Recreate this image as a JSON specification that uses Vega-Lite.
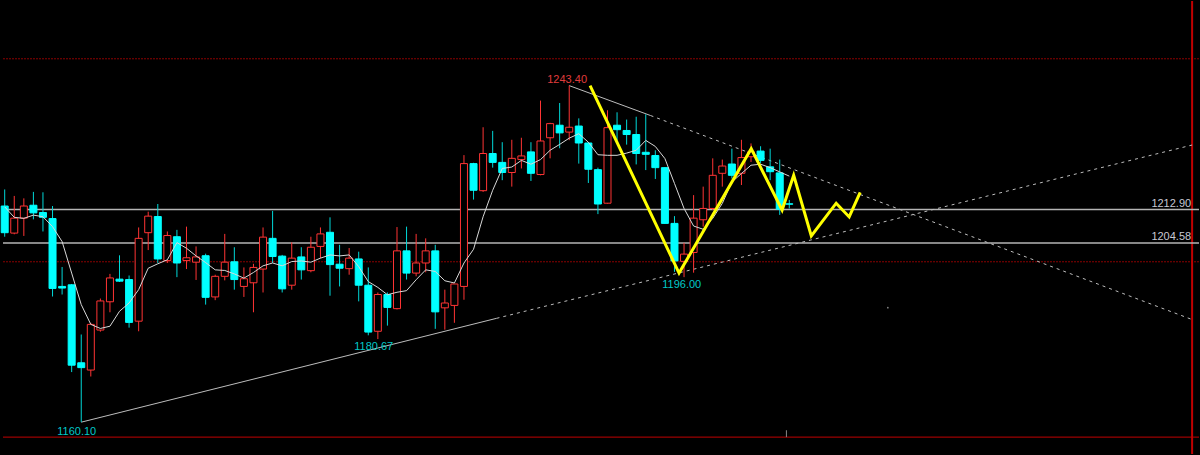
{
  "$schema": "https://vega.github.io/schema/vega-lite/v6.json",
  "width": 1200,
  "height": 455,
  "autosize": {"type": "fit", "contains": "padding"},
  "padding": 0,
  "background": "#000000",
  "config": {"view": {"stroke": null}, "scale": {"continuousPadding": 0}},
  "datasets": {
    "candles": [
      {"i":0,"o":1213.6,"h":1217.7,"l":1206.0,"c":1207.0},
      {"i":1,"o":1206.9,"h":1216.1,"l":1206.6,"c":1210.6},
      {"i":2,"o":1210.6,"h":1215.5,"l":1206.2,"c":1213.6},
      {"i":3,"o":1213.8,"h":1217.1,"l":1210.3,"c":1211.9},
      {"i":4,"o":1212.0,"h":1217.0,"l":1207.3,"c":1210.8},
      {"i":5,"o":1210.5,"h":1213.6,"l":1191.2,"c":1193.2},
      {"i":6,"o":1193.7,"h":1198.5,"l":1191.7,"c":1193.3},
      {"i":7,"o":1194.1,"h":1194.3,"l":1172.5,"c":1174.2},
      {"i":8,"o":1174.8,"h":1181.8,"l":1160.1,"c":1173.6},
      {"i":9,"o":1173.0,"h":1184.7,"l":1171.4,"c":1184.3},
      {"i":10,"o":1182.9,"h":1190.7,"l":1182.5,"c":1190.1},
      {"i":11,"o":1189.9,"h":1196.8,"l":1187.3,"c":1195.8},
      {"i":12,"o":1195.5,"h":1201.4,"l":1194.8,"c":1195.0},
      {"i":13,"o":1195.4,"h":1196.4,"l":1183.5,"c":1184.8},
      {"i":14,"o":1185.1,"h":1208.3,"l":1182.6,"c":1205.6},
      {"i":15,"o":1207.0,"h":1212.2,"l":1202.7,"c":1211.1},
      {"i":16,"o":1211.0,"h":1214.1,"l":1199.5,"c":1200.5},
      {"i":17,"o":1200.1,"h":1207.3,"l":1199.5,"c":1206.3},
      {"i":18,"o":1206.0,"h":1207.7,"l":1196.0,"c":1199.5},
      {"i":19,"o":1200.1,"h":1208.5,"l":1198.0,"c":1200.8},
      {"i":20,"o":1199.7,"h":1203.6,"l":1195.3,"c":1201.0},
      {"i":21,"o":1201.3,"h":1201.8,"l":1189.2,"c":1191.0},
      {"i":22,"o":1191.1,"h":1196.6,"l":1190.3,"c":1196.2},
      {"i":23,"o":1196.2,"h":1206.7,"l":1195.2,"c":1199.7},
      {"i":24,"o":1199.8,"h":1203.4,"l":1192.9,"c":1195.4},
      {"i":25,"o":1193.7,"h":1198.4,"l":1191.1,"c":1195.6},
      {"i":26,"o":1194.6,"h":1199.3,"l":1187.3,"c":1198.4},
      {"i":27,"o":1198.0,"h":1208.3,"l":1192.2,"c":1205.9},
      {"i":28,"o":1205.6,"h":1212.4,"l":1199.5,"c":1201.1},
      {"i":29,"o":1201.2,"h":1201.5,"l":1192.2,"c":1193.1},
      {"i":30,"o":1194.0,"h":1204.6,"l":1192.9,"c":1200.7},
      {"i":31,"o":1201.0,"h":1203.4,"l":1195.4,"c":1197.8},
      {"i":32,"o":1197.6,"h":1206.0,"l":1197.2,"c":1203.4},
      {"i":33,"o":1203.6,"h":1208.3,"l":1200.7,"c":1206.7},
      {"i":34,"o":1207.1,"h":1210.8,"l":1191.4,"c":1199.1},
      {"i":35,"o":1199.2,"h":1204.0,"l":1193.7,"c":1198.2},
      {"i":36,"o":1198.1,"h":1203.2,"l":1196.6,"c":1200.7},
      {"i":37,"o":1200.5,"h":1202.3,"l":1190.0,"c":1194.0},
      {"i":38,"o":1194.0,"h":1198.4,"l":1181.6,"c":1182.4},
      {"i":39,"o":1182.6,"h":1192.2,"l":1180.67,"c":1191.7},
      {"i":40,"o":1191.7,"h":1192.2,"l":1184.0,"c":1188.5},
      {"i":41,"o":1188.2,"h":1208.4,"l":1188.0,"c":1202.5},
      {"i":42,"o":1202.5,"h":1208.5,"l":1195.4,"c":1197.0},
      {"i":43,"o":1197.0,"h":1206.7,"l":1196.2,"c":1199.5},
      {"i":44,"o":1199.5,"h":1205.6,"l":1197.2,"c":1202.5},
      {"i":45,"o":1202.5,"h":1204.0,"l":1183.2,"c":1187.4},
      {"i":46,"o":1188.4,"h":1192.9,"l":1183.0,"c":1189.6},
      {"i":47,"o":1189.0,"h":1194.3,"l":1184.7,"c":1194.3},
      {"i":48,"o":1193.7,"h":1226.2,"l":1190.4,"c":1224.1},
      {"i":49,"o":1224.1,"h":1224.3,"l":1215.2,"c":1217.5},
      {"i":50,"o":1217.4,"h":1233.1,"l":1217.1,"c":1226.6},
      {"i":51,"o":1226.6,"h":1232.2,"l":1223.1,"c":1224.4},
      {"i":52,"o":1224.4,"h":1229.4,"l":1220.0,"c":1221.9},
      {"i":53,"o":1221.9,"h":1230.0,"l":1218.4,"c":1225.4},
      {"i":54,"o":1225.1,"h":1230.5,"l":1222.9,"c":1226.0},
      {"i":55,"o":1227.0,"h":1229.4,"l":1219.8,"c":1221.7},
      {"i":56,"o":1221.4,"h":1239.7,"l":1221.2,"c":1229.7},
      {"i":57,"o":1230.5,"h":1234.2,"l":1225.4,"c":1234.0},
      {"i":58,"o":1233.6,"h":1239.1,"l":1227.9,"c":1231.7},
      {"i":59,"o":1231.9,"h":1243.4,"l":1229.9,"c":1233.1},
      {"i":60,"o":1233.4,"h":1235.3,"l":1224.1,"c":1229.2},
      {"i":61,"o":1229.2,"h":1229.4,"l":1219.3,"c":1222.7},
      {"i":62,"o":1222.6,"h":1223.1,"l":1211.6,"c":1214.1},
      {"i":63,"o":1214.3,"h":1237.3,"l":1214.2,"c":1233.0},
      {"i":64,"o":1233.6,"h":1236.8,"l":1229.9,"c":1232.5},
      {"i":65,"o":1232.3,"h":1235.0,"l":1228.8,"c":1231.3},
      {"i":66,"o":1231.3,"h":1235.7,"l":1223.9,"c":1226.6},
      {"i":67,"o":1226.9,"h":1236.3,"l":1222.5,"c":1226.4},
      {"i":68,"o":1226.1,"h":1227.4,"l":1220.3,"c":1223.1},
      {"i":69,"o":1223.1,"h":1223.2,"l":1209.2,"c":1209.3},
      {"i":70,"o":1209.3,"h":1211.1,"l":1197.3,"c":1200.0},
      {"i":71,"o":1199.9,"h":1204.5,"l":1196.0,"c":1201.7},
      {"i":72,"o":1202.1,"h":1216.3,"l":1197.1,"c":1210.6},
      {"i":73,"o":1210.2,"h":1218.4,"l":1208.5,"c":1213.0},
      {"i":74,"o":1213.0,"h":1225.4,"l":1212.6,"c":1221.2},
      {"i":75,"o":1221.7,"h":1225.1,"l":1218.4,"c":1223.5},
      {"i":76,"o":1224.0,"h":1227.8,"l":1220.4,"c":1221.2},
      {"i":77,"o":1221.7,"h":1230.0,"l":1218.8,"c":1225.6},
      {"i":78,"o":1225.8,"h":1229.1,"l":1224.5,"c":1227.0},
      {"i":79,"o":1227.2,"h":1228.4,"l":1224.2,"c":1224.9},
      {"i":80,"o":1223.3,"h":1227.8,"l":1220.0,"c":1222.1},
      {"i":81,"o":1221.8,"h":1225.1,"l":1211.4,"c":1212.8},
      {"i":82,"o":1214.15,"h":1215.1,"l":1213.0,"c":1214.05}
    ],
    "ma": [
      {"i":0,"v":1213.4},{"i":1,"v":1210.8},{"i":2,"v":1210.55},{"i":3,"v":1211.35},{"i":4,"v":1210.95},
      {"i":5,"v":1208.5},{"i":6,"v":1204.8},{"i":7,"v":1197.0},{"i":8,"v":1189.2},{"i":9,"v":1184.3},
      {"i":10,"v":1183.3},{"i":11,"v":1183.85},{"i":12,"v":1187.55},{"i":13,"v":1189.6},{"i":14,"v":1192.9},
      {"i":15,"v":1198.2},{"i":16,"v":1199.3},{"i":17,"v":1200.3},{"i":18,"v":1204.55},{"i":19,"v":1203.15},
      {"i":20,"v":1201.25},{"i":21,"v":1199.6},{"i":22,"v":1197.8},{"i":23,"v":1197.65},{"i":24,"v":1196.8},
      {"i":25,"v":1195.75},{"i":26,"v":1197.15},{"i":27,"v":1198.8},{"i":28,"v":1199.5},{"i":29,"v":1198.8},
      {"i":30,"v":1199.85},{"i":31,"v":1200.0},{"i":32,"v":1199.7},{"i":33,"v":1200.7},{"i":34,"v":1201.5},
      {"i":35,"v":1201.25},{"i":36,"v":1201.5},{"i":37,"v":1198.6},{"i":38,"v":1194.9},{"i":39,"v":1193.45},
      {"i":40,"v":1191.65},{"i":41,"v":1192.25},{"i":42,"v":1192.65},{"i":43,"v":1195.35},{"i":44,"v":1197.8},
      {"i":45,"v":1197.4},{"i":46,"v":1195.1},{"i":47,"v":1194.55},{"i":48,"v":1199.5},{"i":49,"v":1202.9},
      {"i":50,"v":1210.95},{"i":51,"v":1217.5},{"i":52,"v":1222.9},{"i":53,"v":1223.25},{"i":54,"v":1224.9},
      {"i":55,"v":1223.95},{"i":56,"v":1225.1},{"i":57,"v":1227.4},{"i":58,"v":1228.85},{"i":59,"v":1230.4},
      {"i":60,"v":1231.5},{"i":61,"v":1229.4},{"i":62,"v":1226.3},{"i":63,"v":1226.15},{"i":64,"v":1226.15},
      {"i":65,"v":1226.7},{"i":66,"v":1227.4},{"i":67,"v":1229.85},{"i":68,"v":1228.35},{"i":69,"v":1225.35},
      {"i":70,"v":1219.2},{"i":71,"v":1213.0},{"i":72,"v":1208.65},{"i":73,"v":1207.85},{"i":74,"v":1210.55},
      {"i":75,"v":1214.25},{"i":76,"v":1219.55},{"i":77,"v":1221.65},{"i":78,"v":1223.7},{"i":79,"v":1223.95},
      {"i":80,"v":1223.1},{"i":81,"v":1222.05},{"i":82,"v":1221.0}
    ],
    "zig": [
      {"k":0,"i":61.18,"p":1243.4},
      {"k":1,"i":70.48,"p":1197.0},
      {"k":2,"i":78.02,"p":1227.8},
      {"k":3,"i":81.25,"p":1212.6},
      {"k":4,"i":82.46,"p":1221.2},
      {"k":5,"i":84.3,"p":1206.2},
      {"k":6,"i":86.9,"p":1214.3},
      {"k":7,"i":88.26,"p":1210.9},
      {"k":8,"i":89.41,"p":1217.0}
    ],
    "trendLowSolid": [{"i":8,"p":1160.1},{"i":51.4,"p":1185.8}],
    "trendLowDash": [{"i":51.4,"p":1185.8},{"i":124.1,"p":1228.7}],
    "trendUpSolid": [{"i":59,"p":1243.4},{"i":67.5,"p":1236.0}],
    "trendUpDash": [{"i":67.5,"p":1236.0},{"i":124.1,"p":1185.5}],
    "hlines": [{"p":1212.75},{"p":1204.45}],
    "redlines": [{"p":1250.05},{"p":1199.8}],
    "labelsHi": [{"t":"1243.40","i":58.78,"p":1244.9}],
    "labelsLo": [
      {"t":"1196.00","i":70.76,"p":1194.1},
      {"t":"1180.67","i":38.57,"p":1178.6},
      {"t":"1160.10","i":7.53,"p":1157.6}
    ],
    "rlabels": [
      {"t":"1212.90","i":124.0,"p":1214.1},
      {"t":"1204.58","i":124.0,"p":1205.9}
    ]
  },
  "layer": [
    {
      "data": {"name": "redlines"},
      "mark": {"type": "rule", "color": "#8a0000", "strokeWidth": 1, "strokeDash": [2, 1]},
      "encoding": {"y": {"field": "p", "type": "quantitative", "scale": {"domain": [1152.22, 1264.35], "nice": false, "zero": false}, "axis": null}}
    },
    {
      "data": {"values": [{"p": 1156.4}]},
      "mark": {"type": "rule", "color": "#c00000", "strokeWidth": 1},
      "encoding": {"y": {"field": "p", "type": "quantitative", "scale": {"domain": [1152.22, 1264.35], "nice": false, "zero": false}, "axis": null}}
    },
    {
      "data": {"values": [{"i": 124.1}]},
      "mark": {"type": "rule", "color": "#c00000", "strokeWidth": 2},
      "encoding": {"x": {"field": "i", "type": "quantitative", "scale": {"domain": [-0.177, 124.82], "nice": false, "zero": false, "padding": 0}, "axis": null}}
    },
    {
      "data": {"name": "hlines"},
      "mark": {"type": "rule", "color": "#b4b4b4", "strokeWidth": 1.5},
      "encoding": {"y": {"field": "p", "type": "quantitative", "scale": {"domain": [1152.22, 1264.35], "nice": false, "zero": false}, "axis": null}}
    },
    {
      "data": {"name": "trendLowSolid"},
      "mark": {"type": "line", "color": "#bdbdbd", "strokeWidth": 1},
      "encoding": {
        "x": {"field": "i", "type": "quantitative", "scale": {"domain": [-0.177, 124.82], "nice": false, "zero": false, "padding": 0}, "axis": null},
        "y": {"field": "p", "type": "quantitative", "scale": {"domain": [1152.22, 1264.35], "nice": false, "zero": false}, "axis": null}
      }
    },
    {
      "data": {"name": "trendUpSolid"},
      "mark": {"type": "line", "color": "#bdbdbd", "strokeWidth": 1},
      "encoding": {
        "x": {"field": "i", "type": "quantitative", "scale": {"domain": [-0.177, 124.82], "nice": false, "zero": false, "padding": 0}, "axis": null},
        "y": {"field": "p", "type": "quantitative", "scale": {"domain": [1152.22, 1264.35], "nice": false, "zero": false}, "axis": null}
      }
    },
    {
      "data": {"name": "trendLowDash"},
      "mark": {"type": "line", "color": "#bdbdbd", "strokeWidth": 1, "strokeDash": [3, 4]},
      "encoding": {
        "x": {"field": "i", "type": "quantitative", "scale": {"domain": [-0.177, 124.82], "nice": false, "zero": false, "padding": 0}, "axis": null},
        "y": {"field": "p", "type": "quantitative", "scale": {"domain": [1152.22, 1264.35], "nice": false, "zero": false}, "axis": null}
      }
    },
    {
      "data": {"name": "trendUpDash"},
      "mark": {"type": "line", "color": "#bdbdbd", "strokeWidth": 1, "strokeDash": [3, 4]},
      "encoding": {
        "x": {"field": "i", "type": "quantitative", "scale": {"domain": [-0.177, 124.82], "nice": false, "zero": false, "padding": 0}, "axis": null},
        "y": {"field": "p", "type": "quantitative", "scale": {"domain": [1152.22, 1264.35], "nice": false, "zero": false}, "axis": null}
      }
    },
    {
      "data": {"name": "candles"},
      "mark": {"type": "rule", "strokeWidth": 1},
      "encoding": {
        "x": {"field": "i", "type": "quantitative", "scale": {"domain": [-0.177, 124.82], "nice": false, "zero": false, "padding": 0}, "axis": null},
        "y": {"field": "l", "type": "quantitative", "scale": {"domain": [1152.22, 1264.35], "nice": false, "zero": false}, "axis": null},
        "y2": {"field": "h"},
        "color": {"condition": {"test": "datum.c > datum.o", "value": "#ff3434"}, "value": "#00d8d8"}
      }
    },
    {
      "data": {"name": "candles"},
      "mark": {"type": "bar", "size": 7, "strokeWidth": 1},
      "encoding": {
        "x": {"field": "i", "type": "quantitative", "scale": {"domain": [-0.177, 124.82], "nice": false, "zero": false, "padding": 0}, "axis": null},
        "y": {"field": "o", "type": "quantitative", "scale": {"domain": [1152.22, 1264.35], "nice": false, "zero": false}, "axis": null},
        "y2": {"field": "c"},
        "fill": {"condition": {"test": "datum.c > datum.o", "value": "#000000"}, "value": "#00ffff"},
        "stroke": {"condition": {"test": "datum.c > datum.o", "value": "#ff3434"}, "value": "#00ffff"}
      }
    },
    {
      "data": {"name": "ma"},
      "mark": {"type": "line", "color": "#d8d8d8", "strokeWidth": 1},
      "encoding": {
        "x": {"field": "i", "type": "quantitative", "scale": {"domain": [-0.177, 124.82], "nice": false, "zero": false, "padding": 0}, "axis": null},
        "y": {"field": "v", "type": "quantitative", "scale": {"domain": [1152.22, 1264.35], "nice": false, "zero": false}, "axis": null}
      }
    },
    {
      "data": {"name": "zig"},
      "mark": {"type": "line", "color": "#ffff00", "strokeWidth": 3},
      "encoding": {
        "x": {"field": "i", "type": "quantitative", "scale": {"domain": [-0.177, 124.82], "nice": false, "zero": false, "padding": 0}, "axis": null},
        "y": {"field": "p", "type": "quantitative", "scale": {"domain": [1152.22, 1264.35], "nice": false, "zero": false}, "axis": null},
        "order": {"field": "k", "type": "quantitative"}
      }
    },
    {
      "data": {"values": [{"i": 92.3, "p": 1188.45}]},
      "mark": {"type": "point", "filled": true, "size": 3, "color": "#bbbbbb"},
      "encoding": {
        "x": {"field": "i", "type": "quantitative", "scale": {"domain": [-0.177, 124.82], "nice": false, "zero": false, "padding": 0}, "axis": null},
        "y": {"field": "p", "type": "quantitative", "scale": {"domain": [1152.22, 1264.35], "nice": false, "zero": false}, "axis": null}
      }
    },
    {
      "data": {"values": [{"i": 81.7, "a": 1158.1, "b": 1156.4}]},
      "mark": {"type": "rule", "color": "#888888", "strokeWidth": 1},
      "encoding": {
        "x": {"field": "i", "type": "quantitative", "scale": {"domain": [-0.177, 124.82], "nice": false, "zero": false, "padding": 0}, "axis": null},
        "y": {"field": "a", "type": "quantitative", "scale": {"domain": [1152.22, 1264.35], "nice": false, "zero": false}, "axis": null},
        "y2": {"field": "b"}
      }
    },
    {
      "data": {"name": "labelsHi"},
      "mark": {"type": "text", "font": "Liberation Sans", "fontSize": 11, "align": "center", "baseline": "middle", "color": "#e03c3c"},
      "encoding": {
        "x": {"field": "i", "type": "quantitative", "scale": {"domain": [-0.177, 124.82], "nice": false, "zero": false, "padding": 0}, "axis": null},
        "y": {"field": "p", "type": "quantitative", "scale": {"domain": [1152.22, 1264.35], "nice": false, "zero": false}, "axis": null},
        "text": {"field": "t", "type": "nominal"}
      }
    },
    {
      "data": {"name": "labelsLo"},
      "mark": {"type": "text", "font": "Liberation Sans", "fontSize": 11, "align": "center", "baseline": "middle", "color": "#00c8c8"},
      "encoding": {
        "x": {"field": "i", "type": "quantitative", "scale": {"domain": [-0.177, 124.82], "nice": false, "zero": false, "padding": 0}, "axis": null},
        "y": {"field": "p", "type": "quantitative", "scale": {"domain": [1152.22, 1264.35], "nice": false, "zero": false}, "axis": null},
        "text": {"field": "t", "type": "nominal"}
      }
    },
    {
      "data": {"name": "rlabels"},
      "mark": {"type": "text", "font": "Liberation Sans", "fontSize": 11, "align": "right", "baseline": "middle", "color": "#c8c8d4"},
      "encoding": {
        "x": {"field": "i", "type": "quantitative", "scale": {"domain": [-0.177, 124.82], "nice": false, "zero": false, "padding": 0}, "axis": null},
        "y": {"field": "p", "type": "quantitative", "scale": {"domain": [1152.22, 1264.35], "nice": false, "zero": false}, "axis": null},
        "text": {"field": "t", "type": "nominal"}
      }
    }
  ]
}
